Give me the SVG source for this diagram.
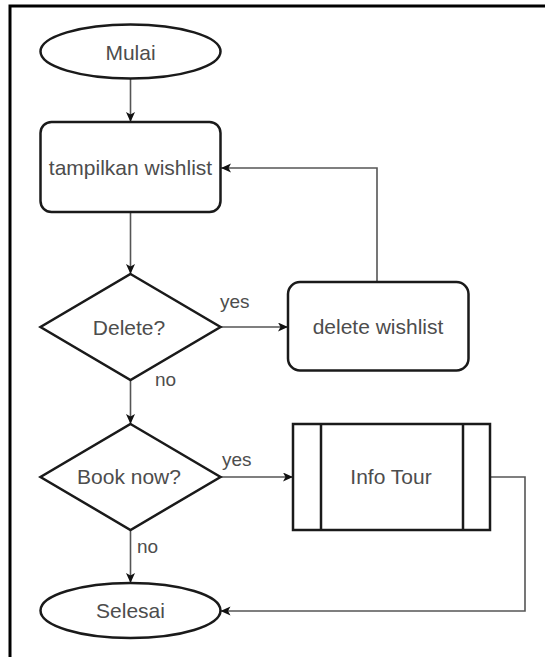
<svg xmlns="http://www.w3.org/2000/svg" width="545" height="657" viewBox="0 0 545 657">
  <style>
    .shape { fill: #ffffff; stroke: #1a1a1a; stroke-width: 2.5; }
    .label { font-family: "Liberation Sans", Arial, sans-serif; font-size: 21px; fill: #4d4d4d; text-anchor: middle; }
    .edge-label { font-family: "Liberation Sans", Arial, sans-serif; font-size: 19px; fill: #4d4d4d; }
    .conn { fill: none; stroke: #555555; stroke-width: 1.6; }
    .frame { fill: none; stroke: #000000; stroke-width: 3; }
  </style>
  <defs>
    <marker id="arrow" markerUnits="userSpaceOnUse" markerWidth="11" markerHeight="10" refX="10" refY="4.5" orient="auto">
      <path d="M0,0 L10,4.5 L0,9 L2.5,4.5 Z" fill="#111111"/>
    </marker>
  </defs>

  <rect width="545" height="657" fill="#ffffff"/>

  <!-- page frame: left and top rules -->
  <path class="frame" d="M10,657 V6 H545"/>

  <!-- connectors -->
  <g id="connectors">
    <path class="conn" d="M130.5,78.5 V122" marker-end="url(#arrow)"/>
    <path class="conn" d="M130.5,212 V274" marker-end="url(#arrow)"/>
    <path class="conn" d="M220.5,327 H288" marker-end="url(#arrow)"/>
    <path class="conn" d="M377,282 V168 H221" marker-end="url(#arrow)"/>
    <path class="conn" d="M130.5,380 V424" marker-end="url(#arrow)"/>
    <path class="conn" d="M220.5,477 H293" marker-end="url(#arrow)"/>
    <path class="conn" d="M490,477 H525 V611 H220.5" marker-end="url(#arrow)"/>
    <path class="conn" d="M130.5,530 V583" marker-end="url(#arrow)"/>
    <text class="edge-label" x="220" y="308">yes</text>
    <text class="edge-label" x="155" y="386">no</text>
    <text class="edge-label" x="222" y="466">yes</text>
    <text class="edge-label" x="137" y="553">no</text>
  </g>

  <g id="mulai">
    <ellipse class="shape" cx="130.5" cy="51.5" rx="90" ry="27"/>
    <text class="label" x="130.5" y="59.5">Mulai</text>
  </g>

  <g id="tampilkan-wishlist">
    <rect class="shape" x="40.5" y="122" width="180" height="90" rx="11" ry="11"/>
    <text class="label" x="130.5" y="175">tampilkan wishlist</text>
  </g>

  <g id="delete-decision">
    <polygon class="shape" points="130.5,274 220.5,327 130.5,380 40.5,327"/>
    <text class="label" x="129" y="334.5">Delete?</text>
  </g>

  <g id="delete-wishlist">
    <rect class="shape" x="288" y="282" width="180.5" height="88.5" rx="12" ry="12"/>
    <text class="label" x="378" y="334">delete wishlist</text>
  </g>

  <g id="book-decision">
    <polygon class="shape" points="130.5,424 220.5,477 130.5,530 40.5,477"/>
    <text class="label" x="129" y="484">Book now?</text>
  </g>

  <g id="info-tour">
    <rect class="shape" x="293" y="424" width="197" height="106"/>
    <line class="shape" x1="321" y1="424" x2="321" y2="530"/>
    <line class="shape" x1="463" y1="424" x2="463" y2="530"/>
    <text class="label" x="391" y="484">Info Tour</text>
  </g>

  <g id="selesai">
    <ellipse class="shape" cx="130.5" cy="610.5" rx="90" ry="27.5"/>
    <text class="label" x="130.5" y="618">Selesai</text>
  </g>
</svg>
